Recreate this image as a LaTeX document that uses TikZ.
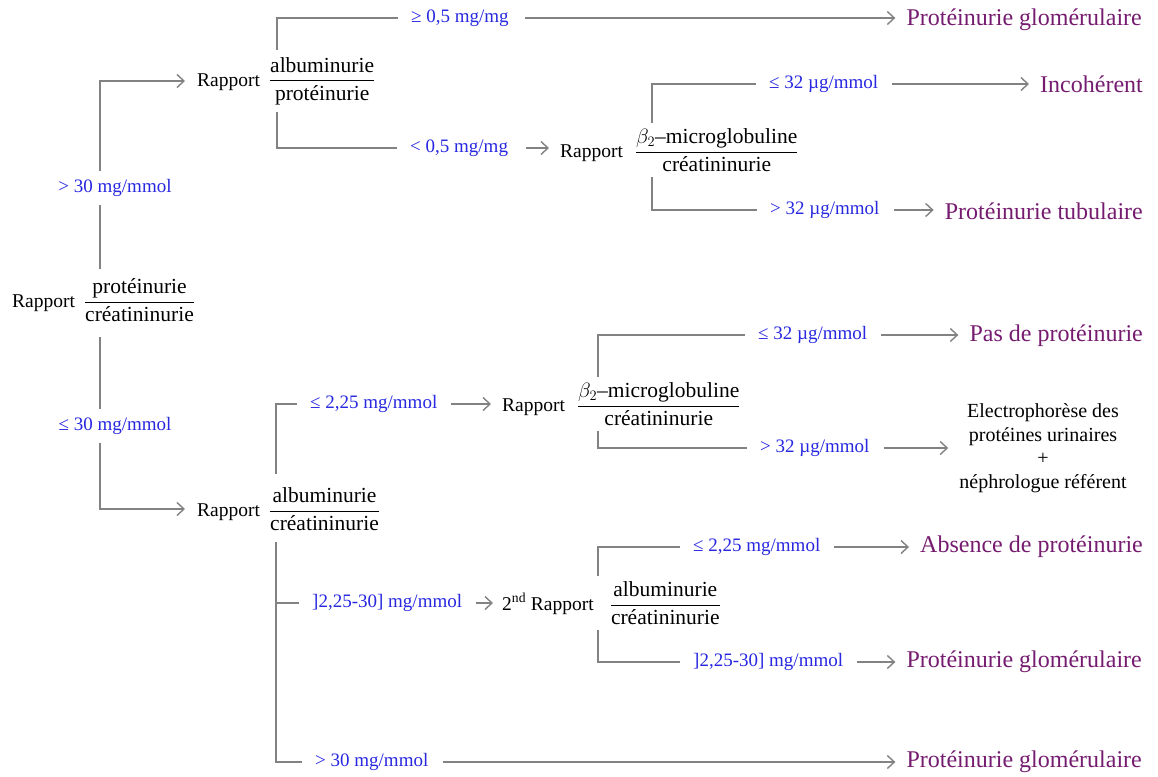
\documentclass[tikz,border=0pt]{standalone}
\usepackage{amsmath}
\usepackage{fontspec}
\setmainfont{Liberation Serif}
\usetikzlibrary{arrows.meta}
\definecolor{lblue}{RGB}{40,40,225}
\definecolor{purp}{RGB}{118,28,112}
\definecolor{lgray}{RGB}{130,130,130}
\newcommand{\fr}[2]{$\dfrac{\mbox{\fontsize{21.5}{25}\selectfont #1}}{\mbox{\fontsize{21.5}{25}\selectfont #2}}$}
\begin{document}
\begin{tikzpicture}[x=1pt,y=-1pt,
  ln/.style={draw=lgray,line width=1.4pt},
  arr/.style={ln,-{Straight Barb[length=7pt,width=13pt]},shorten <=14pt,shorten >=11pt},
  brn/.style={ln,shorten >=13pt},
  lbl/.style={text=lblue,font=\fontsize{19}{22}\selectfont,inner sep=0pt},
  blk/.style={text=black,font=\fontsize{19.5}{24}\selectfont,inner xsep=0pt,inner ysep=5pt},
  res/.style={text=purp,font=\fontsize{24}{28}\selectfont,inner sep=0pt},
  txt/.style={text=black,font=\fontsize{20}{23.5}\selectfont,inner sep=0pt,align=center}
]
\useasboundingbox[fill=white] (0,0) rectangle (1158,776);

% trunk columns
\coordinate (t0) at (100,0);
\coordinate (t1) at (277,0);
\coordinate (t2) at (652,0);
\coordinate (t3) at (276,0);
\coordinate (t4) at (598,0);
\coordinate (t5) at (598,0);

% ratio nodes
\node[blk,anchor=west] (n0) at (12,300) {Rapport\hspace{9pt}\fr{protéinurie}{créatininurie}};
\node[blk,anchor=west] (n1) at (197,81) {Rapport\hspace{9pt}\fr{albuminurie}{protéinurie}};
\node[blk,anchor=west] (n2) at (560,150) {Rapport\hspace{12pt}\fr{$\beta_2$–microglobuline}{créatininurie}};
\node[blk,anchor=west] (n3) at (197,509) {Rapport\hspace{9pt}\fr{albuminurie}{créatininurie}};
\node[blk,anchor=west] (n4) at (502,404) {Rapport\hspace{12pt}\fr{$\beta_2$–microglobuline}{créatininurie}};
\node[blk,anchor=west] (n5) at (502,603) {2\textsuperscript{nd} Rapport\hspace{16pt}\fr{albuminurie}{créatininurie}};

% threshold labels
\node[lbl] (lgt30) at (115,188) {> 30 mg/mmol};
\node[lbl] (lle30) at (115,426) {≤ 30 mg/mmol};
\node[lbl,anchor=west] (lge05) at (411,18) {≥ 0,5 mg/mg};
\node[lbl,anchor=west] (llt05) at (410,148) {< 0,5 mg/mg};
\node[lbl,anchor=west] (lle32a) at (769,84) {≤ 32 µg/mmol};
\node[lbl,anchor=west] (lgt32a) at (770,210) {> 32 µg/mmol};
\node[lbl,anchor=west] (lle225a) at (310,404) {≤ 2,25 mg/mmol};
\node[lbl,anchor=west] (lle32b) at (758,335) {≤ 32 µg/mmol};
\node[lbl,anchor=west] (lgt32b) at (760,448) {> 32 µg/mmol};
\node[lbl,anchor=west] (l2230a) at (312,603) {]2,25-30] mg/mmol};
\node[lbl,anchor=west] (lle225b) at (693,547) {≤ 2,25 mg/mmol};
\node[lbl,anchor=west] (l2230b) at (693,662) {]2,25-30] mg/mmol};
\node[lbl,anchor=west] (lgt30b) at (315,762) {> 30 mg/mmol};

% results
\node[res,anchor=east] (r1) at (1142,20) {Protéinurie glomérulaire};
\node[res,anchor=east] (r2) at (1143,84) {Incohérent};
\node[res,anchor=east] (r3) at (1143,211) {Protéinurie tubulaire};
\node[res,anchor=east] (r4) at (1143,336) {Pas de protéinurie};
\node[txt] (r5) at (1043,448) {Electrophorèse des\\protéines urinaires\\+\\néphrologue référent};
\node[res,anchor=east] (r6) at (1143,547) {Absence de protéinurie};
\node[res,anchor=east] (r7) at (1142,662) {Protéinurie glomérulaire};
\node[res,anchor=east] (r8) at (1142,762) {Protéinurie glomérulaire};

% root trunk
\draw[ln] ([yshift=4pt]n0.north -| t0) -- ([yshift=-8pt]lgt30.south -| t0);
\draw[arr,shorten <=0pt,shorten >=12pt] ([yshift=8pt]lgt30.north -| t0) |- (n1.west);
\draw[ln] ([yshift=-10pt]n0.south -| t0) -- ([yshift=8pt]lle30.north -| t0);
\draw[arr,shorten <=0pt,shorten >=12pt] ([yshift=-8pt]lle30.south -| t0) |- (n3.west);

% n1 branches
\draw[brn] ([yshift=2pt]n1.north -| t1) |- (lge05.west);
\draw[brn] ([yshift=-2pt]n1.south -| t1) |- (llt05.west);
\draw[arr,shorten <=16pt] (lge05.east) -- (lge05.east -| r1.west);
\draw[arr,shorten <=18pt] (llt05.east) -- (llt05.east -| n2.west);

% n2 branches
\draw[brn] (n2.north -| t2) |- (lle32a.west);
\draw[brn] (n2.south -| t2) |- (lgt32a.west);
\draw[arr] (lle32a.east) -- (lle32a.east -| r2.west);
\draw[arr] (lgt32a.east) -- (lgt32a.east -| r3.west);

% n3 branches
\draw[brn] ([yshift=8pt]n3.north -| t3) |- (lle225a.west);
\draw[ln] (l2230a.west -| t3) -- ([xshift=-13pt]l2230a.west);
\draw[brn] ([yshift=-6pt]n3.south -| t3) |- (lgt30b.west);
\draw[arr] (lle225a.east) -- (lle225a.east -| n4.west);
\draw[arr,shorten >=9pt] (l2230a.east) -- (l2230a.east -| n5.west);
\draw[arr] (lgt30b.east) -- (lgt30b.east -| r8.west);

% n4 branches
\draw[brn] (n4.north -| t4) |- (lle32b.west);
\draw[brn] (n4.south -| t4) |- (lgt32b.west);
\draw[arr] (lle32b.east) -- (lle32b.east -| r4.west);
\draw[arr] (lgt32b.east) -- (lgt32b.east -| r5.west);

% n5 branches
\draw[brn] (n5.north -| t5) |- (lle225b.west);
\draw[brn] (n5.south -| t5) |- (l2230b.west);
\draw[arr] (lle225b.east) -- (lle225b.east -| r6.west);
\draw[arr] (l2230b.east) -- (l2230b.east -| r7.west);
\end{tikzpicture}
\end{document}
